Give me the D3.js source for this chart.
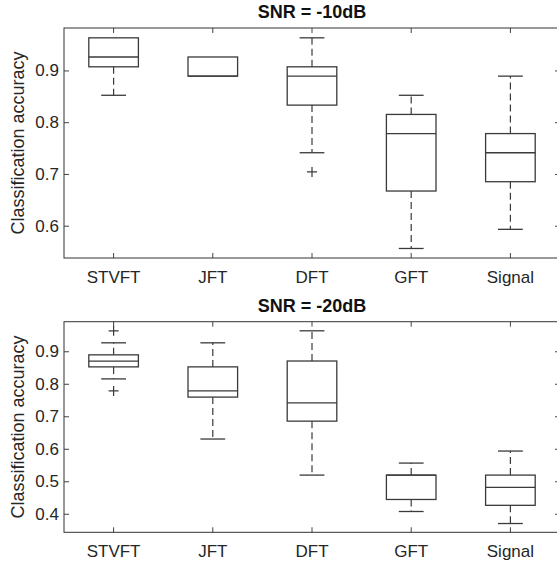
<!DOCTYPE html>
<html>
<head>
<meta charset="utf-8">
<script src="https://cdn.jsdelivr.net/npm/d3@7"></script>
<style>
  body { margin: 0; background: #fff; }
  svg { display: block; font-family: "Liberation Sans", Arial, sans-serif; }
  .tick text { fill: #262626; font-size: 17px; }
  .tick line { stroke: #444; }
</style>
</head>
<body>
<div class="graph"></div>
<script>
// categories shared by both panels
var methods = ['STVFT', 'JFT', 'DFT', 'GFT', 'Signal'];

// SNR = -10dB : whisker low, q1, median, q3, whisker high, outliers
var lo10  = [0.852, 0.889, 0.741, 0.556, 0.593];
var q1_10 = [0.907, 0.889, 0.833, 0.667, 0.685];
var med10 = [0.926, 0.889, 0.889, 0.778, 0.741];
var q3_10 = [0.963, 0.926, 0.907, 0.815, 0.778];
var hi10  = [0.963, 0.926, 0.963, 0.852, 0.889];
var out10 = [[], [], [0.704], [], []];
var ticks10 = [0.6, 0.7, 0.8, 0.9];

// SNR = -20dB
var lo20  = [0.815, 0.630, 0.519, 0.407, 0.370];
var q1_20 = [0.852, 0.759, 0.685, 0.444, 0.426];
var med20 = [0.870, 0.778, 0.741, 0.519, 0.481];
var q3_20 = [0.889, 0.852, 0.870, 0.519, 0.519];
var hi20  = [0.926, 0.926, 0.963, 0.556, 0.593];
var out20 = [[0.963, 0.778], [], [], [], []];
var ticks20 = [0.4, 0.5, 0.6, 0.7, 0.8, 0.9];

var width = 557, height = 563;
var left = 64, right = 560;
var lineColor = '#3a3a3a';

var svg = d3.select('.graph').append('svg')
    .attr('width', width)
    .attr('height', height);

svg.append('rect').attr('width', width).attr('height', height).attr('fill', '#fff');

var x = d3.scaleBand().domain(methods).range([left, right]).paddingInner(0).paddingOuter(0);

function panel(top, bottom, ydomain, yticks, title, lo, q1, med, q3, hi, outs) {
  var y = d3.scaleLinear().domain(ydomain).range([bottom, top]);
  var g = svg.append('g');

  var stats = methods.map(function (m, i) {
    return { name: m, lo: lo[i], q1: q1[i], med: med[i], q3: q3[i], hi: hi[i], out: outs[i] };
  });

  var bw = x.bandwidth() * 0.5,
      cw = x.bandwidth() * 0.25;

  var box = g.selectAll('.box')
    .data(stats)
    .enter().append('g')
      .attr('class', 'box')
      .attr('transform', function (d) { return 'translate(' + (x(d.name) + x.bandwidth() / 2) + ',0)'; });

  // whiskers (dashed)
  box.filter(function (d) { return d.hi > d.q3; }).append('line')
      .attr('y1', function (d) { return y(d.q3); })
      .attr('y2', function (d) { return y(d.hi); })
      .attr('stroke', lineColor).attr('stroke-width', 1.2).attr('stroke-dasharray', '7,4');
  box.filter(function (d) { return d.lo < d.q1; }).append('line')
      .attr('y1', function (d) { return y(d.q1); })
      .attr('y2', function (d) { return y(d.lo); })
      .attr('stroke', lineColor).attr('stroke-width', 1.2).attr('stroke-dasharray', '7,4');

  // caps
  box.filter(function (d) { return d.hi > d.q3; }).append('line')
      .attr('x1', -cw / 2).attr('x2', cw / 2)
      .attr('y1', function (d) { return y(d.hi); })
      .attr('y2', function (d) { return y(d.hi); })
      .attr('stroke', lineColor).attr('stroke-width', 1.3);
  box.filter(function (d) { return d.lo < d.q1; }).append('line')
      .attr('x1', -cw / 2).attr('x2', cw / 2)
      .attr('y1', function (d) { return y(d.lo); })
      .attr('y2', function (d) { return y(d.lo); })
      .attr('stroke', lineColor).attr('stroke-width', 1.3);

  box.append('rect')
      .attr('x', -bw / 2)
      .attr('width', bw)
      .attr('y', function (d) { return y(d.q3); })
      .attr('height', function (d) { return y(d.q1) - y(d.q3); })
      .attr('fill', 'none').attr('stroke', lineColor).attr('stroke-width', 1.3);

  box.append('line')
      .attr('x1', -bw / 2).attr('x2', bw / 2)
      .attr('y1', function (d) { return y(d.med); })
      .attr('y2', function (d) { return y(d.med); })
      .attr('stroke', lineColor).attr('stroke-width', 1.3);

  // outliers as '+'
  box.selectAll('.out')
    .data(function (d) { return d.out; })
    .enter().append('path')
      .attr('class', 'out')
      .attr('d', function (v) { var c = y(v); return 'M-5,' + c + 'H5M0,' + (c - 5) + 'V' + (c + 5); })
      .attr('stroke', lineColor).attr('stroke-width', 1.2).attr('fill', 'none');

  // axes, ticks pointing inward like matlab
  g.append('g').attr('transform', 'translate(0,' + bottom + ')')
    .call(d3.axisBottom(x).tickSize(-5).tickSizeOuter(0).tickPadding(13));
  g.append('g').attr('transform', 'translate(0,' + top + ')')
    .call(d3.axisTop(x).tickSize(-5).tickSizeOuter(0).tickFormat(''));
  g.append('g').attr('transform', 'translate(' + left + ',0)')
    .call(d3.axisLeft(y).tickValues(yticks).tickSize(-5).tickSizeOuter(0).tickPadding(5).tickFormat(d3.format('.1f')));
  g.append('g').attr('transform', 'translate(' + right + ',0)')
    .call(d3.axisRight(y).tickValues(yticks).tickSize(-5).tickSizeOuter(0).tickFormat(''));
  g.selectAll('.domain').remove();

  g.append('rect')
      .attr('x', left).attr('y', top)
      .attr('width', right - left).attr('height', bottom - top)
      .attr('fill', 'none').attr('stroke', '#333').attr('stroke-width', 1);

  g.append('text')
      .attr('x', (left + right) / 2).attr('y', top - 10)
      .attr('text-anchor', 'middle')
      .attr('font-weight', 'bold').attr('font-size', 18).attr('fill', '#111')
      .text(title);

  g.append('text')
      .attr('transform', 'translate(24,' + ((top + bottom) / 2) + ') rotate(-90)')
      .attr('text-anchor', 'middle')
      .attr('font-size', 18).attr('fill', '#262626')
      .text('Classification accuracy');
}

panel(28, 258, [0.5376, 0.982], ticks10, 'SNR = -10dB', lo10, q1_10, med10, q3_10, hi10, out10);
panel(321.7, 532.3, [0.343, 0.991], ticks20, 'SNR = -20dB', lo20, q1_20, med20, q3_20, hi20, out20);
</script>
</body>
</html>
